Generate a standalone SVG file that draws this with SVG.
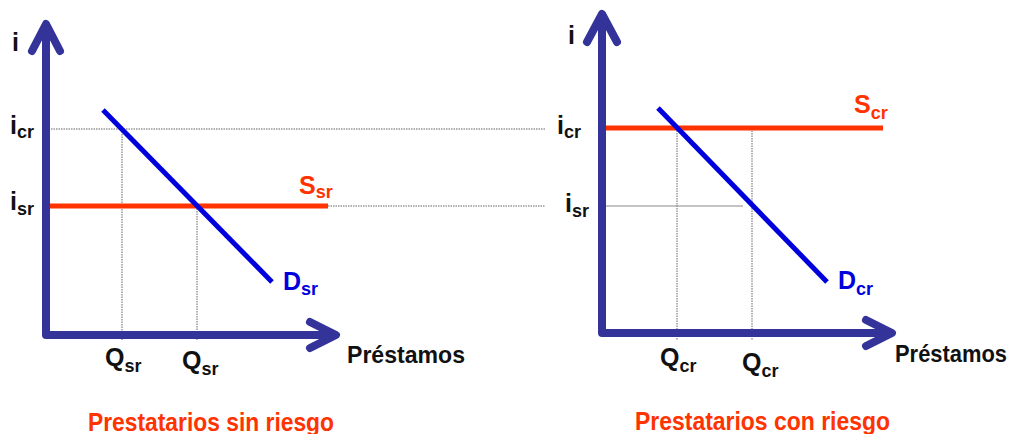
<svg xmlns="http://www.w3.org/2000/svg" width="1016" height="434" viewBox="0 0 1016 434">
<style>
.axis{fill:none;stroke:#333399;stroke-width:8;stroke-linecap:round;stroke-linejoin:round}
.guide{fill:none;stroke:#666;stroke-width:1;stroke-dasharray:1.5 1}
.guides{fill:none;stroke:#888;stroke-width:1}
.supply{stroke:#ff3300;stroke-width:5;fill:none}
.demand{stroke:#0000dd;stroke-width:5;fill:none}
text{font-family:"Liberation Sans",Arial,sans-serif;font-weight:bold}
.lbl{font-size:25px;fill:#111}
.sub{font-size:18px}
.red{fill:#ff3300}
.blue{fill:#0000dd}
.title{font-size:25px;fill:#ff3300}
.axt{font-size:24px;fill:#111}
</style>
<rect width="1016" height="434" fill="#fff"/>
<g id="connectors">
<path class="guide" d="M46,129 H545 M328,206 H545"/>
<path class="guide" d="M122,129 V340 M197,206 V340"/>
<path class="guide" d="M677,128 V340 M752,128 V340"/>
<path class="guides" d="M602,206 H743"/>
</g>
<g id="chart-sin-riesgo">
<path class="supply" d="M46,206 H328"/>
<path class="demand" d="M103,110 L272,282"/>
<path class="axis" d="M46,335 V26 M32,51 L46,24 L60,51 M46,335 H335 M310,322 L336,335 L310,348"/>
<text class="lbl" x="12" y="51">i</text>
<text class="lbl" x="10" y="134">i<tspan class="sub" dy="4">cr</tspan></text>
<text class="lbl" x="10" y="210">i<tspan class="sub" dy="5">sr</tspan></text>
<text class="lbl red" x="299" y="194">S<tspan class="sub" dy="4">sr</tspan></text>
<text class="lbl blue" x="283" y="290">D<tspan class="sub" dy="5">sr</tspan></text>
<text class="lbl" x="105" y="366">Q<tspan class="sub" dy="6">sr</tspan></text>
<text class="lbl" x="182" y="369">Q<tspan class="sub" dy="6">sr</tspan></text>
<text class="axt" x="347" y="363" textLength="118" lengthAdjust="spacingAndGlyphs">Préstamos</text>
<text class="title" x="88" y="431" textLength="246" lengthAdjust="spacingAndGlyphs">Prestatarios sin riesgo</text>
</g>
<g id="chart-con-riesgo">
<path class="supply" d="M602,128 H883"/>
<path class="demand" d="M658,108 L827,282"/>
<path class="axis" d="M602,333 V16 M587,42 L602,14 L617,42 M602,333 H891 M866,320 L892,333 L866,346"/>
<text class="lbl" x="568" y="44">i</text>
<text class="lbl" x="557" y="134">i<tspan class="sub" dy="4">cr</tspan></text>
<text class="lbl" x="565" y="212">i<tspan class="sub" dy="5">sr</tspan></text>
<text class="lbl red" x="854" y="113">S<tspan class="sub" dy="6">cr</tspan></text>
<text class="lbl blue" x="838" y="289">D<tspan class="sub" dy="6">cr</tspan></text>
<text class="lbl" x="660" y="366">Q<tspan class="sub" dy="6">cr</tspan></text>
<text class="lbl" x="742" y="371">Q<tspan class="sub" dy="6">cr</tspan></text>
<text class="axt" x="895" y="362" textLength="112" lengthAdjust="spacingAndGlyphs">Préstamos</text>
<text class="title" x="635" y="430" textLength="255" lengthAdjust="spacingAndGlyphs">Prestatarios con riesgo</text>
</g>
</svg>
